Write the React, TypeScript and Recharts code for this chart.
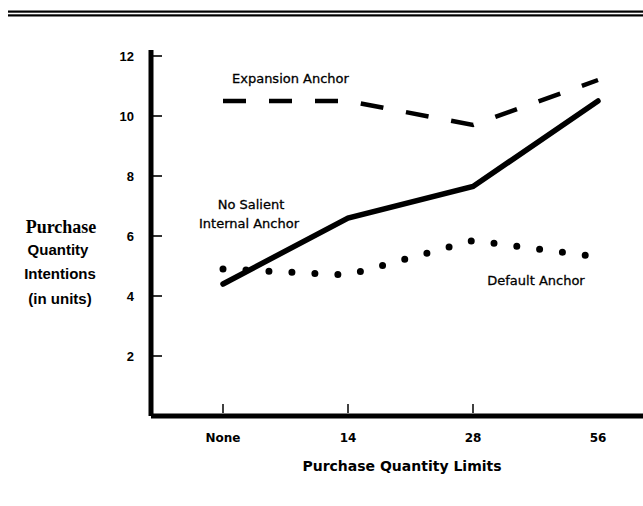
import React from 'react';
import { LineChart, Line, XAxis, YAxis } from 'recharts';

const categories = ['None', '14', '28', '56'];
const noSalientAnchor = [4.4, 6.6, 7.65, 10.5];
const expansionAnchor = [10.5, 10.5, 9.7, 11.2];
const defaultAnchor = [4.9, 4.7, 5.85, 5.3];
const yTicks = [2, 4, 6, 8, 10, 12];

const data = categories.map((c, i) => ({
  idx: i,
  label: c,
  noSalient: noSalientAnchor[i],
  expansion: expansionAnchor[i],
  def: defaultAnchor[i],
}));

const sans = '"DejaVu Sans", sans-serif';

function YTick(props: any) {
  const { x, y, payload } = props;
  return (
    <g>
      <line x1={x} x2={x + 11} y1={y} y2={y} stroke="#000" strokeWidth={1.6} />
      <text x={x - 17} y={y} dy="0.35em" textAnchor="end" fontFamily='"Liberation Sans", sans-serif'
        fontWeight="bold" fontSize={13} fill="#000">
        {payload.value}
      </text>
    </g>
  );
}

function XTick(props: any) {
  const { x, y, payload } = props;
  const i = payload.value as number;
  return (
    <g>
      {i < 3 && <line x1={x} x2={x} y1={y - 12} y2={y - 3} stroke="#000" strokeWidth={1.5} />}
      <text x={x} y={y + 22} dy="0.35em" textAnchor="middle" fontFamily={sans}
        fontWeight="bold" fontSize={12} fill="#000">
        {categories[i]}
      </text>
    </g>
  );
}

export default function App() {
  return (
    <div style={{ position: 'absolute', left: 0, top: 0, width: 643, height: 506, background: '#fff' }}>
      <LineChart width={643} height={506} data={data}
        margin={{ top: 50, right: 0, left: 111, bottom: 60 }}>
        <XAxis dataKey="idx" type="number" domain={[-0.576, 3.36]} ticks={[0, 1, 2, 3]}
          allowDataOverflow height={30} tickSize={0} tickMargin={0}
          axisLine={{ stroke: '#000', strokeWidth: 5 }} tickLine={false} tick={<XTick />} />
        <YAxis type="number" domain={[0, 12.2]} ticks={yTicks} width={40} tickSize={0} tickMargin={0}
          allowDataOverflow axisLine={{ stroke: '#000', strokeWidth: 5 }} tickLine={false} tick={<YTick />} />
        <Line type="linear" dataKey="expansion" stroke="#000" strokeWidth={4.5}
          strokeDasharray="23 23" dot={false} isAnimationActive={false} />
        <Line type="linear" dataKey="noSalient" stroke="#000" strokeWidth={5.5}
          strokeLinecap="round" dot={false} isAnimationActive={false} />
        <Line type="linear" dataKey="def" stroke="#000" strokeWidth={7}
          strokeDasharray="0 23" strokeLinecap="round" dot={false} isAnimationActive={false} />
      </LineChart>
      <svg width={643} height={506} style={{ position: 'absolute', left: 0, top: 0, pointerEvents: 'none' }}>
        <rect x={8} y={10.5} width={635} height={2.2} fill="#000" />
        <rect x={8} y={14.3} width={635} height={2.2} fill="#000" />
        <g fontFamily={sans} fontSize={13} fill="#000" stroke="#000" strokeWidth={0.3}>
          <text x={232} y={83}>Expansion Anchor</text>
          <text x={251} y={209} textAnchor="middle">No Salient</text>
          <text x={249} y={228} textAnchor="middle">Internal Anchor</text>
          <text x={536} y={285} textAnchor="middle">Default Anchor</text>
        </g>
        <text x={61} y={233} fontFamily='"Liberation Serif", serif' fontWeight="bold" fontSize={18}
          fill="#000" textAnchor="middle">Purchase</text>
        <text x={58} y={255} fontFamily='"Liberation Sans", sans-serif' fontWeight="bold" fontSize={15}
          fill="#000" textAnchor="middle">Quantity</text>
        <text x={60} y={279} fontFamily='"Liberation Sans", sans-serif' fontWeight="bold" fontSize={15}
          fill="#000" textAnchor="middle">Intentions</text>
        <text x={60} y={304} fontFamily='"Liberation Sans", sans-serif' fontWeight="bold" fontSize={15}
          fill="#000" textAnchor="middle">(in units)</text>
        <text x={402} y={471} fontFamily={sans} fontWeight="bold" fontSize={14}
          fill="#000" textAnchor="middle">Purchase Quantity Limits</text>
      </svg>
    </div>
  );
}
